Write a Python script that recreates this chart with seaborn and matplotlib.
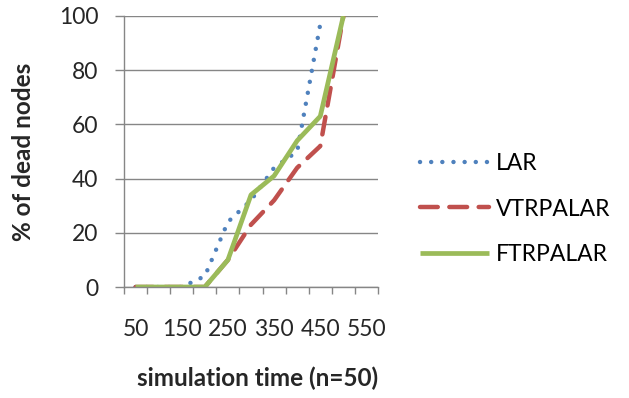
import matplotlib

matplotlib.use("Agg")

import matplotlib.pyplot as plt
import numpy as np
import pandas as pd
import seaborn as sns
from matplotlib.ticker import FixedLocator, NullFormatter

TIMES = [50, 100, 150, 200, 250, 300, 350, 400, 450, 500, 550]
LAR = [0, 0, 0, 4, 24, 32, 44, 50, 97, np.nan, np.nan]
VTRPALAR = [0, 0, 0, 0, 10, 23, 32, 44, 52, 100, np.nan]
FTRPALAR = [0, 0, 0, 0, 10, 34, 41, 54, 63, 100, np.nan]
X_LABELS = ["50", "150", "250", "350", "450", "550"]

GRAY = "#868686"
FS = 16.5
FS_LABEL = 17.5


def main() -> None:
    sns.set_theme(style="white")
    plt.rcParams.update({"font.family": ["Lato", "DejaVu Sans"], "text.color": "black"})

    df = pd.DataFrame({"pos": np.arange(len(TIMES)), "LAR": LAR,
                       "VTRPALAR": VTRPALAR, "FTRPALAR": FTRPALAR})

    fig = plt.figure(figsize=(6.29, 3.98), dpi=100)
    ax = fig.add_axes([124 / 629, 1 - 287 / 398, 254 / 629, 271 / 398])

    for y in range(0, 101, 20):
        ax.axhline(y, color=GRAY, linewidth=1.0, zorder=0)

    sns.lineplot(data=df, x="pos", y="LAR", ax=ax, color="#4F81BD", linewidth=3.2,
                 linestyle=(0, (0.01, 2.5)), dash_capstyle="round", label="LAR")
    sns.lineplot(data=df, x="pos", y="VTRPALAR", ax=ax, color="#C0504D", linewidth=3.2,
                 linestyle=(0, (4.0, 2.6)), dash_capstyle="round", label="VTRPALAR")
    sns.lineplot(data=df, x="pos", y="FTRPALAR", ax=ax, color="#9BBB59", linewidth=3.4,
                 solid_capstyle="butt", label="FTRPALAR")

    ax.set_xlim(-0.5, len(TIMES) - 0.5)
    ax.set_ylim(0, 100)
    ax.set_yticks(range(0, 101, 20))
    ax.tick_params(axis="y", left=True, length=6.5, width=1.0, color=GRAY, pad=12, labelsize=FS)

    ax.xaxis.set_major_locator(FixedLocator(np.arange(0, len(TIMES), 2)))
    ax.set_xticklabels(X_LABELS)
    ax.xaxis.set_minor_locator(FixedLocator(np.arange(-0.5, len(TIMES), 1)))
    ax.xaxis.set_minor_formatter(NullFormatter())
    ax.tick_params(axis="x", which="major", bottom=True, length=0, pad=23, labelsize=FS)
    ax.tick_params(axis="x", which="minor", bottom=True, length=5, width=1.0, color=GRAY)

    for side in ("top", "right"):
        ax.spines[side].set_visible(False)
    for side in ("left", "bottom"):
        ax.spines[side].set_color(GRAY)
        ax.spines[side].set_linewidth(1.0)

    ax.set_xlabel("simulation time (n=50)", fontsize=FS_LABEL, fontweight="bold")
    ax.xaxis.set_label_coords((257.5 - 124) / 254, -(378 - 287) / 271)
    ax.xaxis.label.set_va("center")
    ax.set_ylabel("% of dead nodes", fontsize=FS_LABEL, fontweight="bold")
    ax.yaxis.set_label_coords((24 - 124) / 254, 0.5)
    ax.yaxis.label.set_va("center")

    handles, labels = ax.get_legend_handles_labels()
    ax.get_legend().remove()
    fig.legend(handles, labels, loc="center left", bbox_to_anchor=(420 / 629, 1 - 209 / 398),
               frameon=False, fontsize=FS, borderpad=0, borderaxespad=0,
               handlelength=3.0, handletextpad=0.3, labelspacing=1.05)

    fig.savefig("out.png", dpi=100, facecolor="white")
    plt.close(fig)


if __name__ == "__main__":
    main()
